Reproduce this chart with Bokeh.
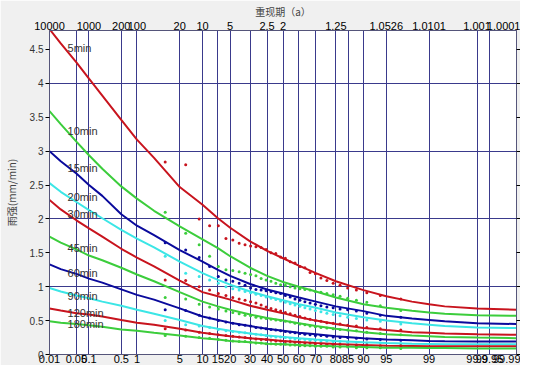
from statistics import NormalDist
from bokeh.plotting import figure
from bokeh.models import LinearAxis, FixedTicker, Range1d, ColumnDataSource
from bokeh.embed import file_html
from bokeh.resources import INLINE
from bokeh.core.properties import value

# ---------------- data ----------------
durations = ["5min", "10min", "15min", "20min", "30min", "45min", "60min", "90min", "120min", "180min"]
colors = ["#c8141e", "#3ccd3c", "#0a0a9c", "#3ce6e6", "#c8141e", "#3ccd3c", "#0a0a9c", "#3ce6e6", "#c8141e", "#3ccd3c"]

# frequency (%) at which the fitted curves were read
curve_freq = [0.01, 0.02, 0.05, 0.1, 0.2, 0.5, 1, 2, 5, 10, 15, 20, 30, 40, 50, 60, 70, 80, 90, 95, 98, 99, 99.5, 99.9, 99.99]

c5 = [4.80, 4.59, 4.31, 4.07, 3.82, 3.46, 3.17, 2.90, 2.47, 2.21, 2.01, 1.87, 1.67, 1.53, 1.42, 1.31, 1.20, 1.08, 0.95, 0.86, 0.78, 0.74, 0.71, 0.68, 0.66]
c10 = [3.59, 3.40, 3.14, 2.94, 2.74, 2.48, 2.30, 2.12, 1.89, 1.70, 1.57, 1.45, 1.28, 1.16, 1.07, 1.00, 0.93, 0.84, 0.74, 0.69, 0.645, 0.62, 0.60, 0.58, 0.57]
c15 = [3.00, 2.85, 2.67, 2.50, 2.34, 2.07, 1.90, 1.76, 1.54, 1.37, 1.25, 1.16, 1.04, 0.96, 0.90, 0.84, 0.78, 0.71, 0.64, 0.57, 0.53, 0.51, 0.49, 0.46, 0.45]
c20 = [2.53, 2.40, 2.25, 2.13, 2.01, 1.84, 1.71, 1.58, 1.37, 1.20, 1.10, 1.03, 0.93, 0.86, 0.80, 0.74, 0.69, 0.62, 0.55, 0.50, 0.46, 0.44, 0.42, 0.40, 0.39]
c30 = [2.28, 2.14, 1.98, 1.86, 1.74, 1.56, 1.43, 1.30, 1.09, 0.92, 0.86, 0.81, 0.72, 0.66, 0.61, 0.55, 0.50, 0.45, 0.39, 0.36, 0.33, 0.32, 0.31, 0.30, 0.29]
c45 = [1.74, 1.65, 1.55, 1.46, 1.39, 1.28, 1.18, 1.08, 0.92, 0.78, 0.71, 0.66, 0.59, 0.54, 0.50, 0.46, 0.42, 0.38, 0.33, 0.30, 0.28, 0.27, 0.26, 0.25, 0.24]
c60 = [1.33, 1.26, 1.19, 1.12, 1.06, 0.96, 0.88, 0.81, 0.68, 0.56, 0.51, 0.47, 0.42, 0.38, 0.35, 0.32, 0.30, 0.27, 0.24, 0.22, 0.21, 0.20, 0.195, 0.19, 0.19]
c90 = [0.98, 0.93, 0.87, 0.83, 0.78, 0.72, 0.66, 0.60, 0.51, 0.42, 0.38, 0.35, 0.31, 0.28, 0.26, 0.24, 0.22, 0.20, 0.18, 0.17, 0.16, 0.155, 0.15, 0.15, 0.15]
c120 = [0.68, 0.65, 0.61, 0.59, 0.56, 0.51, 0.47, 0.44, 0.38, 0.32, 0.29, 0.27, 0.24, 0.22, 0.20, 0.185, 0.17, 0.155, 0.14, 0.13, 0.125, 0.12, 0.12, 0.12, 0.12]
c180 = [0.49, 0.47, 0.45, 0.43, 0.41, 0.37, 0.35, 0.32, 0.28, 0.24, 0.22, 0.20, 0.18, 0.16, 0.15, 0.14, 0.13, 0.12, 0.11, 0.10, 0.10, 0.095, 0.095, 0.09, 0.09]
curves = [c5, c10, c15, c20, c30, c45, c60, c90, c120, c180]

# observed intensities (sorted, descending), 32 years each
o5 = [2.84, 2.80, 2.00, 1.90, 1.90, 1.71, 1.69, 1.64, 1.62, 1.60, 1.59, 1.58, 1.55, 1.50, 1.49, 1.44, 1.42, 1.37, 1.35, 1.30, 1.28, 1.21, 1.19, 1.13, 1.09, 1.05, 1.02, 0.98, 0.95, 0.91, 0.87, 0.82]
o10 = [2.10, 1.79, 1.62, 1.45, 1.30, 1.25, 1.24, 1.22, 1.20, 1.18, 1.16, 1.12, 1.10, 1.08, 1.05, 1.03, 1.02, 1.00, 0.98, 0.97, 0.96, 0.95, 0.93, 0.92, 0.90, 0.88, 0.86, 0.83, 0.80, 0.77, 0.72, 0.65]
o15 = [1.65, 1.54, 1.43, 1.30, 1.15, 1.10, 1.08, 1.05, 1.02, 0.98, 0.96, 0.95, 0.94, 0.93, 0.91, 0.90, 0.87, 0.85, 0.82, 0.80, 0.78, 0.76, 0.74, 0.72, 0.70, 0.69, 0.67, 0.66, 0.64, 0.61, 0.58, 0.55]
o20 = [1.45, 1.20, 1.15, 1.10, 1.05, 1.00, 0.97, 0.95, 0.93, 0.91, 0.89, 0.87, 0.85, 0.83, 0.81, 0.79, 0.77, 0.75, 0.73, 0.71, 0.69, 0.67, 0.65, 0.63, 0.61, 0.59, 0.57, 0.55, 0.53, 0.51, 0.49, 0.45]
o30 = [1.10, 1.09, 1.00, 0.95, 0.90, 0.87, 0.84, 0.82, 0.80, 0.78, 0.76, 0.73, 0.70, 0.68, 0.66, 0.64, 0.62, 0.60, 0.58, 0.56, 0.54, 0.52, 0.50, 0.49, 0.47, 0.46, 0.45, 0.43, 0.42, 0.40, 0.38, 0.36]
o45 = [0.84, 0.82, 0.74, 0.70, 0.67, 0.64, 0.62, 0.60, 0.58, 0.57, 0.55, 0.54, 0.53, 0.52, 0.51, 0.50, 0.49, 0.48, 0.46, 0.45, 0.44, 0.42, 0.41, 0.40, 0.39, 0.38, 0.37, 0.36, 0.35, 0.33, 0.31, 0.29]
o60 = [0.66, 0.65, 0.58, 0.54, 0.50, 0.48, 0.46, 0.44, 0.43, 0.42, 0.40, 0.39, 0.38, 0.37, 0.36, 0.35, 0.34, 0.33, 0.32, 0.31, 0.30, 0.29, 0.28, 0.28, 0.27, 0.26, 0.25, 0.25, 0.24, 0.23, 0.22, 0.21]
o90 = [0.50, 0.44, 0.42, 0.40, 0.37, 0.35, 0.34, 0.33, 0.32, 0.31, 0.30, 0.29, 0.28, 0.27, 0.26, 0.26, 0.25, 0.24, 0.23, 0.23, 0.22, 0.21, 0.21, 0.20, 0.20, 0.19, 0.19, 0.18, 0.18, 0.17, 0.17, 0.16]
o120 = [0.38, 0.36, 0.33, 0.31, 0.29, 0.28, 0.27, 0.26, 0.25, 0.24, 0.23, 0.22, 0.22, 0.21, 0.20, 0.20, 0.19, 0.19, 0.18, 0.18, 0.17, 0.17, 0.16, 0.16, 0.15, 0.15, 0.15, 0.14, 0.14, 0.14, 0.13, 0.13]
o180 = [0.28, 0.27, 0.25, 0.24, 0.22, 0.21, 0.20, 0.19, 0.19, 0.18, 0.17, 0.17, 0.16, 0.16, 0.15, 0.15, 0.15, 0.14, 0.14, 0.13, 0.13, 0.13, 0.12, 0.12, 0.12, 0.11, 0.11, 0.11, 0.10, 0.10, 0.10, 0.09]
observed = [o5, o10, o15, o20, o30, o45, o60, o90, o120, o180]

# axis ticks
freq_ticks = [0.01, 0.05, 0.1, 0.5, 1, 5, 10, 15, 20, 30, 40, 50, 60, 70, 80, 85, 90, 95, 99, 99.9, 99.95, 99.99]
freq_labels = ["0.01", "0.05", "0.1", "0.5", "1", "5", "10", "15", "20", "30", "40", "50", "60", "70", "80", "85", "90", "95", "99", "99.9", "99.95", "99.99"]
rp_ticks = [0.01, 0.1, 0.5, 1, 5, 10, 20, 40, 50, 80, 95, 99, 99.9, 99.99]
rp_labels = ["10000", "1000", "200", "100", "20", "10", "5", "2.5", "2", "1.25", "1.0526", "1.0101", "1.001", "1.0001"]
y_ticks = [0, 0.5, 1, 1.5, 2, 2.5, 3, 3.5, 4, 4.5]
y_grid = [1, 2, 3, 4]
label_freq = 0.03
label_y = [4.52, 3.29, 2.75, 2.32, 2.07, 1.57, 1.20, 0.87, 0.61, 0.45]

# ---------------- plot ----------------
ND = NormalDist()
def z(p):
    return ND.inv_cdf(p / 100.0)

FONT = "Liberation Sans"
CJK = "Noto Sans CJK SC"
FRAME = "#55557a"
GRID = "#3a3a8c"

p = figure(width=520, height=365, output_backend="svg", toolbar_location=None,
           x_range=Range1d(z(0.01), z(99.99)), y_range=Range1d(0, 4.78),
           min_border_left=39, min_border_right=0, min_border_top=0, min_border_bottom=0,
           border_fill_color="#f0f0f0", background_fill_color="white",
           outline_line_color=FRAME, outline_line_width=1)

# bottom axis (frequency %)
xa = p.xaxis[0]
xa.ticker = FixedTicker(ticks=[z(v) for v in freq_ticks])
xa.major_label_overrides = {z(v): s for v, s in zip(freq_ticks, freq_labels)}
xa.major_tick_line_color = None
xa.major_tick_out = 0
xa.major_tick_in = 0
xa.minor_tick_line_color = None
xa.axis_line_color = FRAME
xa.major_label_text_font = FONT
xa.major_label_text_font_size = "11px"
xa.major_label_text_color = "black"
xa.major_label_standoff = 0
xa.axis_label_standoff = 0

# top axis (return period)
ta = LinearAxis(ticker=FixedTicker(ticks=[z(v) for v in rp_ticks]),
                major_label_overrides={z(v): s for v, s in zip(rp_ticks, rp_labels)},
                axis_label="重现期（a）", axis_label_text_font=CJK,
                axis_label_text_font_size="10px", axis_label_text_font_style="normal",
                axis_label_standoff=0,
                major_tick_line_color=None, major_tick_out=0, major_tick_in=0,
                minor_tick_line_color=None,
                axis_line_color=FRAME,
                major_label_text_font=FONT, major_label_text_font_size="11px",
                major_label_text_color="black", major_label_standoff=1)
p.add_layout(ta, "above")

# left axis
ya = p.yaxis[0]
ya.ticker = FixedTicker(ticks=y_ticks)
ya.axis_label = "雨强(mm/min)"
ya.axis_label_text_font = CJK
ya.axis_label_text_font_size = "10px"
ya.axis_label_text_font_style = "normal"
ya.axis_label_standoff = 8
ya.major_label_text_font = FONT
ya.major_label_text_font_size = "10px"
ya.major_label_text_color = "#333333"
ya.major_tick_in = 0
ya.major_tick_out = 4
ya.minor_tick_line_color = None
ya.axis_line_color = FRAME
ya.major_label_standoff = 2

# right axis (ticks only, no labels)
ra = LinearAxis(ticker=FixedTicker(ticks=y_ticks), major_tick_in=0, major_tick_out=4,
                minor_tick_line_color=None, axis_line_color=FRAME,
                major_label_overrides={t: "" for t in y_ticks}, major_label_standoff=0,
                axis_label_standoff=0)
p.add_layout(ra, "right")

# grid
p.xgrid.ticker = FixedTicker(ticks=[z(v) for v in freq_ticks])
p.xgrid.grid_line_color = GRID
p.xgrid.grid_line_width = 1
p.ygrid.ticker = FixedTicker(ticks=y_grid)
p.ygrid.grid_line_color = GRID
p.ygrid.grid_line_width = 1

cx = [z(v) for v in curve_freq]
for name, col, cv in zip(durations, colors, curves):
    p.line(cx, cv, line_color=col, line_width=2)

for col, ov in zip(colors, observed):
    n = len(ov)
    ox = [z(100.0 * (m + 1) / (n + 1)) for m in range(n)]
    p.scatter(ox, ov, size=3, color=col, line_width=0)

src = ColumnDataSource(dict(x=[z(label_freq)] * len(durations), y=label_y, t=durations))
p.text("x", "y", text="t", source=src, text_font=value(FONT), text_font_size="11px",
       text_color="#333333", text_baseline="middle", text_align="left")

open("out.html", "w").write(file_html(p, INLINE))
